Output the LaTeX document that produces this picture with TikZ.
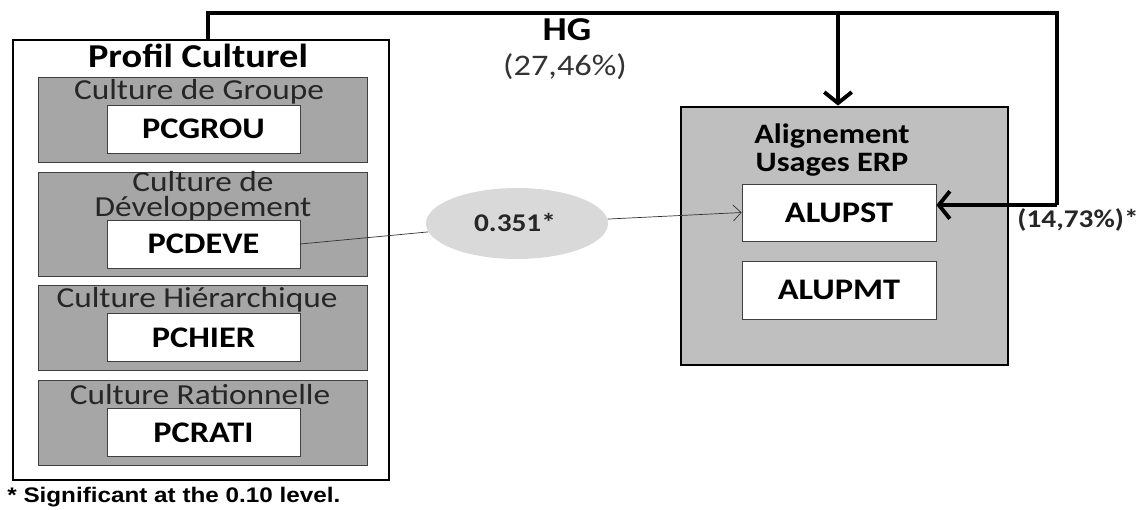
\documentclass[tikz,border=0pt]{standalone}
\usepackage{fontspec}
\setmainfont[FakeStretch=1.15]{Carlito}
\newfontfamily\notefont[FakeStretch=1.15]{Liberation Sans}
\usepackage{tikz}
\usetikzlibrary{positioning,shapes,arrows.meta,shapes.geometric}

\begin{document}
\begin{tikzpicture}[x=0.2mm,y=-0.2mm,
    grpbox/.style={draw=black!75, fill=black!35, minimum width=6.58cm, minimum height=1.7cm, inner sep=0pt},
    varbox/.style={draw=black!75, fill=white, minimum width=3.86cm, minimum height=0.96cm, inner sep=0pt, font=\fontsize{17}{19}\selectfont\bfseries},
    grplabel/.style={align=center, text=black!85, font=\fontsize{16.5}{14}\selectfont},
    fb/.style={line width=2.2pt, -{Straight Barb[length=2.2mm,width=5.5mm]}}
  ]
  \useasboundingbox (0,0) rectangle (1144,510);

  % profil culturel
  \node[draw, line width=1.6pt, minimum width=7.52cm, minimum height=8.8cm] (profil) at (201,260) {};
  \node[font=\fontsize{19}{21}\selectfont\bfseries] (titre) at (198,56) {Profil Culturel};

  \node[grpbox] (grou) at (202.5,119.5) {};
  \node[grpbox, minimum height=2.08cm] (deve) at (202.5,224) {};
  \node[grpbox] (hier) at (202.5,327.5) {};
  \node[grpbox] (rati) at (202.5,422.5) {};

  \node[grplabel] (lgrou) at (199,92) {Culture de Groupe};
  \node[grplabel] (ldeve) at (203,196) {Culture de\\D\'eveloppement};
  \node[grplabel] (lhier) at (197,300) {Culture Hi\'erarchique};
  \node[grplabel] (lrati) at (200,395) {Culture Rationnelle};

  \node[varbox] (pcgrou) at (203.5,129) {PCGROU};
  \node[varbox] (pcdeve) at (203.5,244) {PCDEVE};
  \node[varbox] (pchier) at (203.5,337.5) {PCHIER};
  \node[varbox] (pcrati) at (203.5,432.5) {PCRATI};

  % alignement
  \node[draw, line width=1.6pt, fill=black!25, minimum width=6.54cm, minimum height=5.16cm] (align) at (844.5,236) {};
  \node[align=center, font=\fontsize{16}{16}\selectfont\bfseries] (talign) at (832,150) {Alignement\\Usages ERP};
  \node[varbox, minimum width=3.88cm, minimum height=1.14cm] (alupst) at (839,212.5) {ALUPST};
  \node[varbox, minimum width=3.88cm, minimum height=1.16cm] (alupmt) at (839,290) {ALUPMT};

  % coefficient
  \node[ellipse, fill=black!15, minimum width=3.64cm, minimum height=1.42cm, inner sep=0pt] (coef) at (517,223.5) {};
  \node[font=\fontsize{14.5}{16}\selectfont\bfseries, text=black!85] (tcoef) at (515,222) {0.351*};
  \draw[black!80] (pcdeve.east) -- (coef);
  \draw[black!80, -{Straight Barb[length=1.6mm,width=3.2mm]}] (coef) -- (alupst.west);

  % HG
  \coordinate (c1) at (208,13);
  \coordinate (c2) at (1057,13);
  \coordinate (c3) at (1057,205);
  \coordinate (c4) at (838,13);
  \draw[line width=2.2pt] (profil.north -| c1) -- (c1) -- (c2) -- (c3);
  \draw[fb] (c3) -- (c3 -| alupst.east);
  \draw[fb] (c4) -- (c4 |- align.north);

  \node[font=\fontsize{19}{21}\selectfont\bfseries] (hg) at (567,30) {HG};
  \node[font=\fontsize{17}{19}\selectfont, text=black!80] (rhg) at (565,67) {(27,46\%)};
  \node[font=\fontsize{14.5}{16}\selectfont\bfseries, text=black!85] (r2) at (1078,220) {(14,73\%)*};

  \node[anchor=west, font=\notefont\fontsize{12}{14}\selectfont\bfseries, inner sep=0pt] (note) at (7,497) {* Significant at the 0.10 level.};
\end{tikzpicture}
\end{document}
